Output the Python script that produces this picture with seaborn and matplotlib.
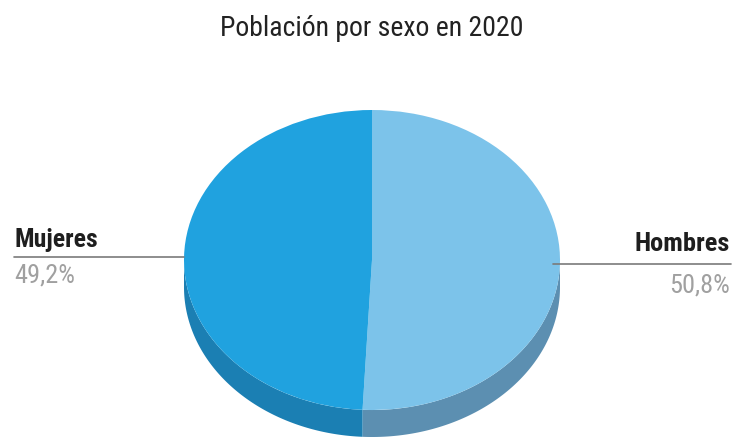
import numpy as np
import matplotlib
matplotlib.use("Agg")
import matplotlib.pyplot as plt
import seaborn as sns

# Data
categories = ["Hombres", "Mujeres"]
shares = [50.8, 49.2]
share_labels = ["50,8%", "49,2%"]
title = "Población por sexo en 2020"

top_colors = ["#7CC3EA", "#20A2DF"]
side_colors = ["#5C8FB1", "#1B7FB3"]

sns.set_theme(style="white")
narrow = ["Liberation Sans Narrow", "Roboto Condensed", "Liberation Sans", "DejaVu Sans"]
plt.rcParams["font.family"] = narrow

W, H = 734, 437
fig = plt.figure(figsize=(W / 100, H / 100), dpi=100)

# Pie geometry in pixels: centre, horizontal / vertical radius, depth of the side
cx, cy, rx, ry, depth = 372, 260, 188, 150, 27

ax = fig.add_axes([0, 0, 1, 1])
d = depth / ry

# Side walls: the part of each slice that lies in the lower half of the ellipse
fracs = np.array(shares) / np.sum(shares)
start = 90.0
for frac, col in zip(fracs, side_colors):
    a0, a1 = start, start - 360 * frac  # clockwise
    for shift in (0, 360):
        lo, hi = max(a1 + shift, -180), min(a0 + shift, 0)
        if lo < hi:
            th = np.radians(np.linspace(lo, hi, 200))
            xs = np.cos(th)
            ys = np.sin(th)
            ax.fill(np.concatenate([xs, xs[::-1]]),
                    np.concatenate([ys, ys[::-1] - d]),
                    color=col, lw=0)
    start = a1

# Top face
ax.pie(shares, colors=top_colors, startangle=90, counterclock=False,
       radius=1, center=(0, 0), frame=True,
       wedgeprops=dict(linewidth=0))
ax.set_xlim((0 - cx) / rx, (W - cx) / rx)
ax.set_ylim((cy - H) / ry, (cy - 0) / ry)
ax.set_aspect("auto")
ax.set_axis_off()

# Overlay in pixel coordinates for title and callouts
ov = fig.add_axes([0, 0, 1, 1], facecolor="none")
ov.set_xlim(0, W)
ov.set_ylim(H, 0)
ov.set_axis_off()

ov.text(cx, 36, title, ha="center", va="baseline", fontsize=20,
        color="#222222", family=narrow)

# Mujeres (left)
ov.plot([14, 184], [257, 257], color="#7a7a7a", lw=1.2)
ov.text(14, 247, categories[1], ha="left", va="baseline", fontsize=18.5,
        fontweight="bold", color="#1e1e1e", family=narrow)
ov.text(14, 283, share_labels[1], ha="left", va="baseline", fontsize=19,
        color="#a0a0a0", family=narrow)

# Hombres (right)
ov.plot([553, 731], [264, 264], color="#7a7a7a", lw=1.2)
ov.text(730, 251, categories[0], ha="right", va="baseline", fontsize=19,
        fontweight="bold", color="#1e1e1e", family=narrow)
ov.text(730, 292, share_labels[0], ha="right", va="baseline", fontsize=19,
        color="#a0a0a0", family=narrow)

fig.savefig("out.png", dpi=100)
